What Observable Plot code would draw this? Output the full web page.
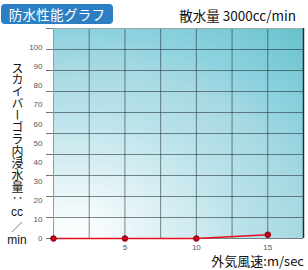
<!DOCTYPE html>
<html>
<head>
<meta charset="utf-8">
<script src="https://cdn.jsdelivr.net/npm/d3@7"></script>
<script src="https://cdn.jsdelivr.net/npm/@observablehq/plot@0.6"></script>
<style>
  html, body { margin: 0; padding: 0; background: #fff; }
  #wrap { position: relative; width: 308px; height: 270px; overflow: hidden; font-family: "Noto Sans CJK JP", "Noto Sans", sans-serif; }
  #wrap svg { position: absolute; left: 0; top: 0; }
  .title { position: absolute; left: 1px; top: 4px; width: 112px; height: 20px; background: #2d7fc3; border-radius: 4px;
           color: #fff; font-size: 13.5px; line-height: 20px; text-align: center; letter-spacing: 0.3px; }
  .subtitle { position: absolute; right: 12px; top: 6px; font-size: 13.5px; line-height: 18px; color: #111; white-space: nowrap; }
  .xtitle { position: absolute; right: 4px; top: 252px; font-size: 13px; line-height: 18px; color: #111; white-space: nowrap; }
  .ytitle { position: absolute; left: 7px; top: 62px; width: 20px; height: 185px; font-size: 12px; color: #111; }
  .ytitle .v { position: absolute; left: 3px; top: 0; height: 150px; white-space: nowrap; writing-mode: vertical-rl; text-orientation: upright; line-height: 14px; letter-spacing: -0.1px; }
  .ytitle .h { position: absolute; left: 0; width: 20px; text-align: center; white-space: nowrap; }
  .ytitle .lat { font-family: "Liberation Sans", Arial, sans-serif; font-size: 12px; line-height: 13px; }
  .ytitle .sl { font-size: 11px; line-height: 15px; }
</style>
</head>
<body>
<div id="wrap"></div>
<script>
// ---- data ----
const windSpeed = [0, 5, 10, 15];          // 外気風速 m/sec
const leakage   = [0, 0, 0, 2];            // 浸水量 cc/min
const xTickLabels = [5, 10, 15];
const yTickLabels = [0, 10, 20, 30, 40, 50, 60, 70, 80, 90, 100];
const titleText = "防水性能グラフ";
const subtitleText = "散水量 3000cc/min";
const xTitle = "外気風速:m/sec";
const yTitleVertical = "スカイバーゴラ内浸水量：";
const yTitleUnits = ["cc", "／", "min"];

const data = windSpeed.map((x, i) => ({x, y: leakage[i]}));
const xDomain = [0, 17.5];
const yDomain = [0, 110];
const xGrid = d3.range(0, 17.5 + 1e-9, 2.5);
const yGrid = d3.range(0, 110 + 1e-9, 11);

const plot = Plot.plot({
  width: 308,
  height: 270,
  marginTop: 28,
  marginBottom: 32,
  marginLeft: 53,
  marginRight: 5,
  style: {background: "transparent", overflow: "visible"},
  x: {domain: xDomain, label: null},
  y: {domain: yDomain, label: null},
  marks: [
    Plot.frame({fill: "url(#bgGrad)", stroke: null}),
    Plot.gridX(xGrid, {stroke: "#1e2a2e", strokeOpacity: 0.55, strokeWidth: 1}),
    Plot.gridY(yGrid, {stroke: "#1e2a2e", strokeOpacity: 0.55, strokeWidth: 1}),
    Plot.axisY(yGrid, {tickSize: 7, tickFormat: () => "", stroke: "#777", label: null}),
    Plot.axisY(yTickLabels, {tickSize: 0, tickPadding: 11, fontSize: 8, fill: "#555", fontFamily: "Liberation Sans, Arial, sans-serif", label: null}),
    Plot.axisX(xTickLabels, {tickSize: 0, tickPadding: 6, fontSize: 8, fill: "#555", fontFamily: "Liberation Sans, Arial, sans-serif", label: null}),
    Plot.ruleX([xDomain[0]], {stroke: "#9a9a9a", strokeWidth: 1}),
    Plot.ruleY([yDomain[1]], {stroke: "#9aa", strokeWidth: 1}),
    Plot.ruleX([xDomain[1]], {stroke: "#2a2a2a", strokeWidth: 1.5}),
    Plot.line(data, {x: "x", y: "y", stroke: "#e8101e", strokeWidth: 1.5}),
    Plot.dot(data, {x: "x", y: "y", r: 2.8, fill: "#c8001a", stroke: "#8c0010", strokeWidth: 1})
  ]
});

// gradient background definition
const svg = d3.select(plot);
const defs = svg.insert("defs", ":first-child");
const grad = defs.append("radialGradient")
  .attr("id", "bgGrad")
  .attr("cx", 0.088).attr("cy", 1).attr("r", 1.416)
  .attr("fx", 0.088).attr("fy", 1)
  .attr("gradientTransform", "translate(0.088,1) scale(1,0.911) translate(-0.088,-1)");
[[0, "#ffffff"], [0.08, "#f6fbfc"], [0.3, "#d4edf2"], [0.48, "#b8e1e9"], [0.64, "#a6d9e3"], [0.76, "#8ed2df"], [1, "#67c2cd"]]
  .forEach(([o, c]) => grad.append("stop").attr("offset", o).attr("stop-color", c));

const wrap = document.getElementById("wrap");
wrap.appendChild(plot);

const t = document.createElement("div"); t.className = "title"; t.textContent = titleText; wrap.appendChild(t);
const s = document.createElement("div"); s.className = "subtitle"; s.textContent = subtitleText; wrap.appendChild(s);
const xt = document.createElement("div"); xt.className = "xtitle"; xt.textContent = xTitle; wrap.appendChild(xt);
const yt = document.createElement("div"); yt.className = "ytitle";
const v = document.createElement("span"); v.className = "v"; v.textContent = yTitleVertical; yt.appendChild(v);
const unitTops = [144, 157, 172];   // offsets below the vertical part (layout only)
const unitCls = ["lat", "sl", "lat"];
yTitleUnits.forEach((u, i) => {
  const h = document.createElement("span");
  h.className = "h " + unitCls[i];
  h.style.top = unitTops[i] + "px";
  h.textContent = u; yt.appendChild(h);
});
wrap.appendChild(yt);
</script>
</body>
</html>
